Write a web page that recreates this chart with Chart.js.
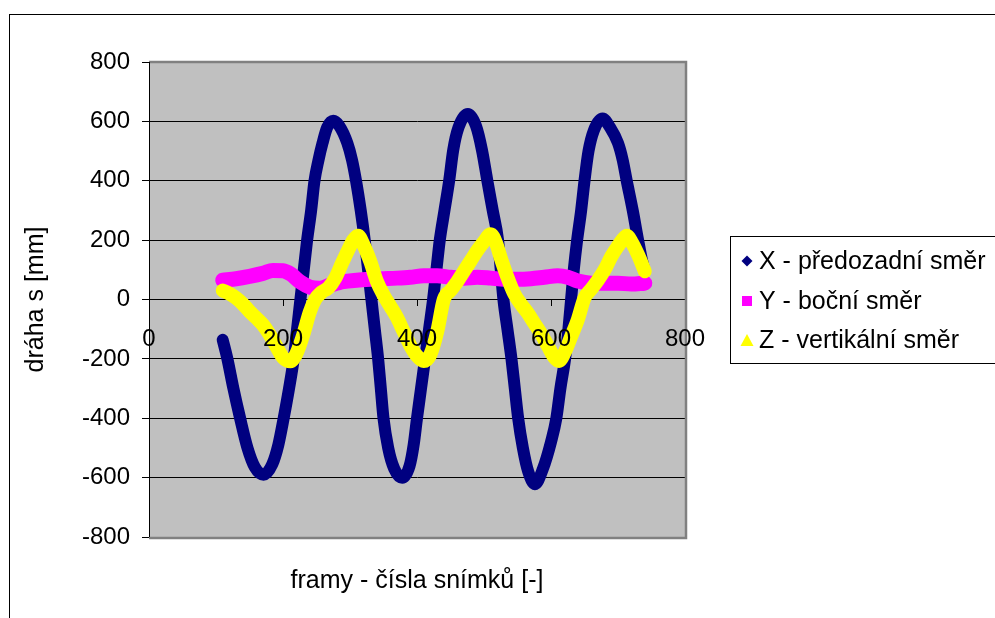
<!DOCTYPE html>
<html><head><meta charset="utf-8">
<script src="https://cdn.jsdelivr.net/npm/chart.js@4/dist/chart.umd.min.js"></script>
<style>html,body{margin:0;padding:0;background:#fff;}</style>
</head><body>
<canvas id="c" width="995" height="618"></canvas>
<script>
// ---- data ----
const xFrames = [110,117,126,136,147,158,171,184,193,201,209,216,221,226,231,236,242,247,253,259,266,275,284,296,303,309,316,322,327,332,337,342,346,350,357,366,378,389,395,400,406,412,418,424,429,434,441,448,454,462,476,488,497,505,513,521,525,529,535,541,546,551,558,566,576,588,600,608,614,621,626,630,634,639,645,650,656,664,677,688,700,707,713,722,730,736,740];
const xValues = [-136,-200,-300,-400,-500,-565,-590,-555,-490,-400,-300,-200,-100,0,100,200,300,400,470,527,580,602,585,527,470,400,300,200,100,0,-100,-200,-300,-400,-500,-570,-600,-560,-490,-400,-300,-200,-100,0,100,200,300,400,503,580,625,585,503,400,300,200,100,0,-100,-200,-300,-400,-500,-580,-622,-570,-480,-400,-300,-200,-100,0,100,200,300,400,500,570,610,580,527,470,400,300,200,130,95];

const yFrames = [110,130,150,170,185,200,212,225,240,255,270,290,310,330,350,370,390,410,430,450,470,490,510,530,550,570,590,610,625,640,660,680,700,720,740];
const yValues = [65,70,78,88,98,97,85,60,42,38,48,60,65,68,70,72,75,80,80,75,72,75,72,68,68,70,75,80,75,62,55,55,55,52,55];

const zFrames = [110,120,130,140,150,160,170,180,190,200,211,220,230,240,248,258,268,278,288,298,305,312,320,330,340,350,360,370,380,390,400,410,420,430,440,450,460,470,480,490,500,510,518,525,535,545,555,565,575,585,595,605,612,620,630,640,650,660,670,680,690,700,708,713,720,730,740];
const zValues = [30,20,5,-15,-40,-62,-85,-118,-158,-195,-208,-182,-120,-42,0,25,40,72,122,170,200,215,185,130,62,15,-22,-60,-108,-155,-190,-207,-185,-110,0,30,60,95,130,165,195,220,190,140,75,20,-15,-45,-80,-115,-155,-195,-207,-180,-125,-68,5,35,65,100,145,180,205,215,195,150,95];

const seriesNames = ['X - předozadní směr', 'Y - boční směr', 'Z - vertikální směr'];
const seriesColors = ['#000080', '#FF00FF', '#FFFF00'];
const xTitle = 'framy - čísla snímků [-]';
const yTitle = 'dráha s [mm]';
const xTicks = [0, 200, 400, 600, 800];
const yTicks = [-800, -600, -400, -200, 0, 200, 400, 600, 800];

const FONT = "'Liberation Sans', Arial, sans-serif";
const toPts = (fx, vy) => fx.map((f, i) => ({x: f, y: vy[i]}));

const decor = {
  id: 'decor',
  beforeDraw(chart) {
    const {ctx, chartArea: a} = chart;
    ctx.save();
    ctx.fillStyle = '#fff';
    ctx.fillRect(0, 0, chart.width, chart.height);
    ctx.fillStyle = '#C0C0C0';
    ctx.fillRect(a.left, a.top, a.right - a.left, a.bottom - a.top);
    ctx.strokeStyle = '#000';
    ctx.lineWidth = 1;
    ctx.strokeRect(9.5, 14.5, 1200, 800);
    ctx.restore();
  },
  beforeDatasetsDraw(chart) {
    const {ctx, chartArea: a} = chart;
    ctx.save();
    ctx.strokeStyle = '#808080';
    ctx.lineWidth = 2.5;
    ctx.beginPath();
    ctx.moveTo(a.left, a.top);
    ctx.lineTo(a.right + 1, a.top);
    ctx.lineTo(a.right + 1, a.bottom + 1);
    ctx.lineTo(a.left, a.bottom + 1);
    ctx.stroke();
    ctx.strokeStyle = '#000';
    ctx.lineWidth = 1;
    ctx.beginPath();
    ctx.moveTo(a.left + 0.5, a.top);
    ctx.lineTo(a.left + 0.5, a.bottom);
    ctx.stroke();
    ctx.restore();
  },
  afterDraw(chart) {
    const ctx = chart.ctx;
    ctx.save();
    ctx.strokeStyle = '#000';
    ctx.lineWidth = 1;
    ctx.strokeRect(730.5, 236.5, 400, 127);
    const rows = [261, 301, 340];
    const mx = 747;
    ctx.fillStyle = seriesColors[0];
    ctx.beginPath();
    ctx.moveTo(mx, rows[0] - 5.5); ctx.lineTo(mx + 5.5, rows[0]);
    ctx.lineTo(mx, rows[0] + 5.5); ctx.lineTo(mx - 5.5, rows[0]);
    ctx.closePath(); ctx.fill();
    ctx.fillStyle = seriesColors[1];
    ctx.fillRect(mx - 5, rows[1] - 5, 10, 10);
    ctx.fillStyle = seriesColors[2];
    ctx.beginPath();
    ctx.moveTo(mx, rows[2] - 6); ctx.lineTo(mx + 6.5, rows[2] + 6);
    ctx.lineTo(mx - 6.5, rows[2] + 6); ctx.closePath(); ctx.fill();
    ctx.fillStyle = '#000';
    ctx.font = '25px ' + FONT;
    ctx.textBaseline = 'middle';
    ctx.textAlign = 'left';
    seriesNames.forEach((t, i) => ctx.fillText(t, 759, rows[i] + 1));
    ctx.restore();
  }
};

const mkSet = (label, pts, color, width, order) => ({
  label, data: pts, borderColor: color, backgroundColor: color,
  borderWidth: width, pointRadius: 0, showLine: true,
  cubicInterpolationMode: 'monotone', borderJoinStyle: 'round', borderCapStyle: 'round',
  order
});

new Chart(document.getElementById('c'), {
  type: 'scatter',
  data: {
    datasets: [
      mkSet(seriesNames[0], toPts(xFrames, xValues), seriesColors[0], 12, 3),
      mkSet(seriesNames[1], toPts(yFrames, yValues), seriesColors[1], 15, 2),
      mkSet(seriesNames[2], toPts(zFrames, zValues), seriesColors[2], 14, 1)
    ]
  },
  options: {
    responsive: false,
    animation: false,
    devicePixelRatio: 1,
    layout: { padding: { left: 0, top: 62, right: 310, bottom: 0 } },
    plugins: { legend: { display: false }, tooltip: { enabled: false } },
    scales: {
      x: {
        type: 'linear', min: 0, max: 800,
        position: { y: 0 },
        afterBuildTicks: s => { s.ticks = xTicks.map(v => ({value: v})); },
        ticks: { z: 1, color: '#000', font: { family: FONT, size: 24 }, padding: 19, maxRotation: 0, autoSkip: false },
        grid: { drawOnChartArea: false, drawTicks: true, tickLength: 6, tickColor: '#000', color: '#000' },
        border: { display: true, color: '#000', width: 1 }
      },
      x2: {
        type: 'linear', min: 0, max: 800, position: 'bottom',
        ticks: { display: false },
        grid: { display: false },
        border: { display: false },
        title: { display: true, text: xTitle, color: '#000', font: { family: FONT, size: 25 }, padding: { top: 0, bottom: 22 } },
        afterFit: s => { s.height = 81; }
      },
      y: {
        type: 'linear', min: -800, max: 800,
        afterBuildTicks: s => { s.ticks = yTicks.map(v => ({value: v})); },
        ticks: { color: '#000', font: { family: FONT, size: 24 }, padding: 12, autoSkip: false },
        grid: {
          color: c => (c.tick && (c.tick.value === 800 || c.tick.value === -800)) ? 'rgba(0,0,0,0)' : '#000',
          tickColor: '#000', tickLength: 7, lineWidth: 1
        },
        border: { display: true, color: '#000', width: 1 },
        title: { display: true, text: yTitle, color: '#000', font: { family: FONT, size: 25 }, padding: { top: 21, bottom: 0 } },
        afterFit: s => { s.width = 149; }
      }
    }
  },
  plugins: [decor]
});
</script>
</body></html>
